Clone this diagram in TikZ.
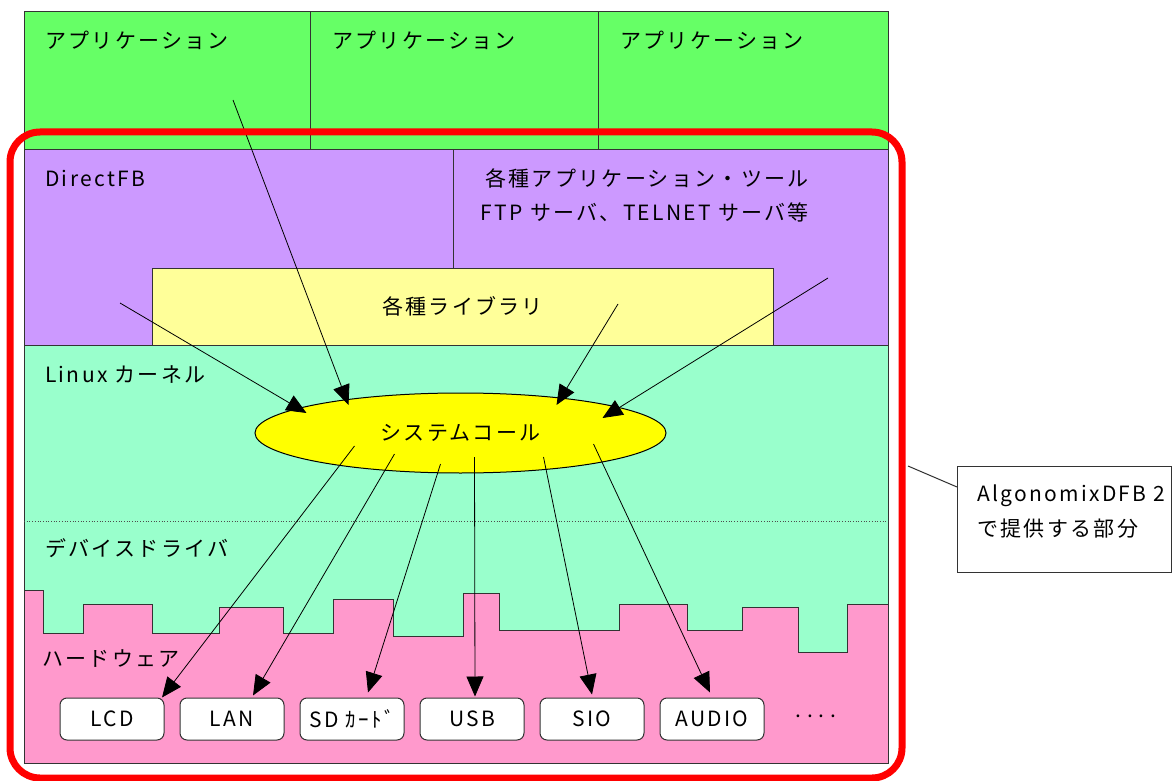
\documentclass[tikz,border=0pt]{standalone}
\usepackage{fontspec}
\setmainfont{Noto Sans CJK JP}[LetterSpace=11]
\usepackage{xcolor}
\usetikzlibrary{arrows.meta, shapes.geometric, calc}

\definecolor{appgreen}{HTML}{66FF66}
\definecolor{fbpurple}{HTML}{CC99FF}
\definecolor{libyellow}{HTML}{FFFF99}
\definecolor{kernmint}{HTML}{99FFCC}
\definecolor{hwpink}{HTML}{FF99CC}
\definecolor{scyellow}{HTML}{FFFF00}

\begin{document}
\begin{tikzpicture}[
    x=1pt, y=-1pt,
    region/.style={draw=black!80, line width=1pt, inner sep=0pt, outer sep=0pt, anchor=north west},
    txt/.style={font=\fontsize{21}{24}\selectfont, inner sep=0pt, anchor=west},
    device/.style={draw=black!80, line width=1pt, fill=white, rounded corners=7pt, minimum width=104, minimum height=42, inner sep=0pt, font=\fontsize{21}{24}\selectfont},
    arrow/.style={-{Triangle[length=20pt,width=17pt]}, line width=0.8pt}
]
\useasboundingbox (0,0) rectangle (1173,781);

% Applications
\node[region, fill=appgreen, minimum width=286, minimum height=138] (app1) at (24,12) {};
\node[region, fill=appgreen, minimum width=288, minimum height=138] (app2) at (310,12) {};
\node[region, fill=appgreen, minimum width=290, minimum height=138] (app3) at (598,12) {};
\node[txt] (app1_txt) at (45,40) {アプリケーション};
\node[txt] (app2_txt) at (332,40) {アプリケーション};
\node[txt] (app3_txt) at (620,40) {アプリケーション};

% DirectFB / tools / libraries
\node[region, fill=fbpurple, minimum width=429, minimum height=195] (dfb) at (24,150) {};
\node[region, fill=fbpurple, minimum width=435, minimum height=195] (tools) at (453,150) {};
\node[region, fill=libyellow, minimum width=621, minimum height=77] (lib) at (152,268) {};
\node[txt] (dfb_txt) at (45,178) {DirectFB};
\node[txt, anchor=east, align=right, font=\fontsize{21}{34}\selectfont] (tools_txt) at (809,195) {各種アプリケーション・ツール\\FTP サーバ、TELNET サーバ等};
\node[txt, anchor=center] (lib_txt) at (lib.center) {各種ライブラリ};

% Kernel, drivers and hardware
\node[region, fill=kernmint, minimum width=864, minimum height=418] (kernel) at (24,345) {};
\draw[draw=black!80, line width=1pt, fill=hwpink]
  (24,590) -- (43,590) -- (43,633) -- (83,633) -- (83,604) -- (152,604) -- (152,633)
  -- (219,633) -- (219,607) -- (283,607) -- (283,633) -- (333,633) -- (333,599)
  -- (393,599) -- (393,636) -- (463,636) -- (463,593) -- (499,593) -- (499,630)
  -- (619,630) -- (619,604) -- (687,604) -- (687,630) -- (742,630) -- (742,607)
  -- (798,607) -- (798,652) -- (847,652) -- (847,604) -- (888,604) -- (888,763)
  -- (24,763) -- cycle;
\draw[dotted, black!70, line width=0.7pt] (24,521) -- (888,521);
\node[txt] (kernel_txt) at (45,375) {Linux カーネル};
\node[txt] (driver_txt) at (45,548) {デバイスドライバ};
\node[txt] (hw_txt) at (42,659) {ハードウェア};

% System call
\node[ellipse, draw=black, line width=1pt, fill=scyellow, minimum width=411, minimum height=80, inner sep=0pt, font=\fontsize{21}{24}\selectfont] (sc) at (460.5,433) {システムコール};

% Devices
\node[device] (lcd) at (112,719) {LCD};
\node[device] (lan) at (232,719) {LAN};
\node[device] (sd) at (352,719) {SD ｶｰﾄﾞ};
\node[device] (usb) at (472,719) {USB};
\node[device] (sio) at (592,719) {SIO};
\node[device] (audio) at (712,719) {AUDIO};
\node[txt, anchor=center] (more) at (816,716) {.\hspace{6pt}.\hspace{6pt}.\hspace{6pt}.};

% Arrows - into system call
\coordinate (from_dfb) at (120,303);
\coordinate (from_app) at (233,100);
\coordinate (from_lib) at (618,304);
\coordinate (from_tools) at (828,278);
\draw[arrow] (from_dfb) -- ($(sc.center)+(-154,-20)$);
\draw[arrow] (from_app) -- ($(sc.center)+(-112,-28)$);
\draw[arrow] (from_lib) -- ($(sc.center)+(96,-28)$);
\draw[arrow] (from_tools) -- ($(sc.center)+(142,-15)$);

% Arrows - system call to devices
\draw[arrow] ($(sc.center)+(-106,13)$) -- ($(lcd.north)+(50,0)$);
\draw[arrow] ($(sc.center)+(-66,21)$) -- ($(lan.north)+(21,-2)$);
\draw[arrow] ($(sc.center)+(-20,31)$) -- ($(sd.north)+(16,-5)$);
\draw[arrow] ($(sc.center)+(14,24)$) -- ($(usb.north)+(3,-1)$);
\draw[arrow] ($(sc.center)+(83,24)$) -- ($(sio.north)+(0,-3)$);
\draw[arrow] ($(sc.center)+(133,11)$) -- ($(audio.north)+(-2,-5)$);

% Provided part
\node[region, draw=red, line width=7pt, rounded corners=30pt, minimum width=892, minimum height=646] (frame) at (10,132) {};
\node[region, draw=black!80, fill=white, minimum width=214, minimum height=106] (note) at (957,466) {};
\node[txt, align=left, font=\fontsize{21}{35}\selectfont] (note_txt) at (977,512) {AlgonomixDFB 2\\で提供する部分};
\coordinate (pin) at (908,466);
\draw[black!80, line width=1pt] (pin) -- ($(note.north west)+(0,21)$);

\end{tikzpicture}
\end{document}
